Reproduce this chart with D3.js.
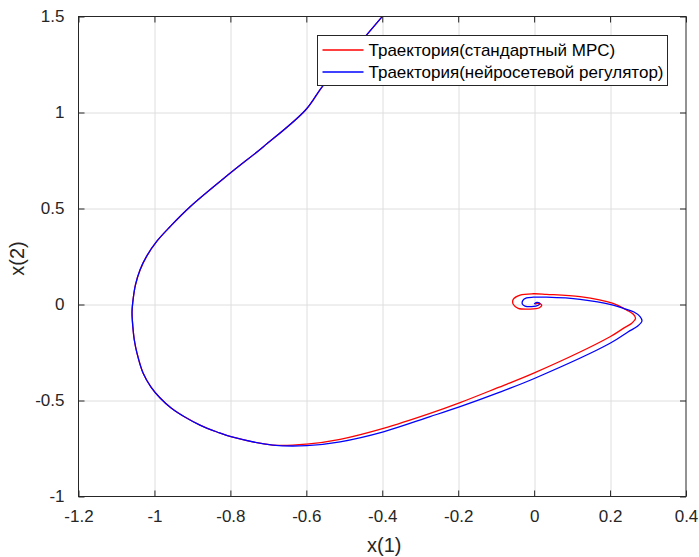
<!DOCTYPE html>
<html>
<head>
<meta charset="utf-8">
<script src="https://cdn.jsdelivr.net/npm/d3@7"></script>
<style>
  html, body { margin: 0; padding: 0; background: #fff; }
  svg { display: block; font-family: "Liberation Sans", Arial, Helvetica, sans-serif; }
</style>
</head>
<body>
<div id="chart"></div>
<script>
// Phase-plane trajectories x(1) vs x(2)
const xTicks = [-1.2, -1, -0.8, -0.6, -0.4, -0.2, 0, 0.2, 0.4];
const yTicks = [-1, -0.5, 0, 0.5, 1, 1.5];
const xDomain = [-1.2, 0.4];
const yDomain = [-1, 1.5];

const seriesNames = ["Траектория(стандартный MPC)", "Траектория(нейросетевой регулятор)"];
const seriesColors = ["#ff0000", "#0000ff"];

// Standard MPC trajectory
const mpcX = [-0.375, -0.400, -0.441, -0.555, -0.602, -0.713, -0.801, -0.906, -0.959, -0.993,
  -1.020, -1.038, -1.050, -1.056, -1.059, -1.057, -1.053, -1.046, -1.030, -1.009, -0.985, -0.956,
  -0.920, -0.880, -0.835, -0.796, -0.688,
  -0.599, -0.511, -0.397, -0.274, -0.195, -0.099, 0.002, 0.200, 0.237, 0.258, 0.267, 0.262, 0.244,
  0.208, 0.121, 0.033, -0.002, -0.037, -0.055, -0.055, -0.042, -0.011, 0.014, 0.020, 0.011, 0.002];
const mpcY = [1.560, 1.500, 1.404, 1.143, 1.013, 0.822, 0.683, 0.509, 0.405, 0.331,
  0.253, 0.180, 0.102, 0.029, -0.039, -0.112, -0.185, -0.253, -0.357, -0.430, -0.487, -0.539,
  -0.586, -0.628, -0.664, -0.690, -0.732,
  -0.727, -0.702, -0.645, -0.567, -0.511, -0.436, -0.355, -0.168, -0.122, -0.096, -0.073, -0.052, -0.029,
  0.006, 0.041, 0.053, 0.056, 0.049, 0.027, 0.001, -0.020, -0.024, -0.017, -0.003, 0.006, 0.002];

// Neural-network controller trajectory
const nnX = [-0.375, -0.400, -0.441, -0.555, -0.602, -0.713, -0.801, -0.906, -0.959, -0.993,
  -1.020, -1.038, -1.050, -1.056, -1.059, -1.057, -1.053, -1.046, -1.030, -1.009, -0.985, -0.956,
  -0.920, -0.880, -0.835, -0.796, -0.688,
  -0.599, -0.511, -0.397, -0.274, -0.195, -0.099, 0.002, 0.200, 0.247, 0.273, 0.284, 0.279, 0.263,
  0.235, 0.208, 0.121, 0.033, -0.002, -0.020, -0.030, -0.031, -0.024, -0.006, 0.011, 0.015, 0.007, 0.000];
const nnY = [1.560, 1.500, 1.404, 1.143, 1.013, 0.822, 0.683, 0.509, 0.405, 0.331,
  0.253, 0.180, 0.102, 0.029, -0.039, -0.112, -0.185, -0.253, -0.357, -0.430, -0.487, -0.539,
  -0.586, -0.628, -0.664, -0.690, -0.732,
  -0.735, -0.715, -0.663, -0.584, -0.532, -0.463, -0.384, -0.202, -0.143, -0.112, -0.086, -0.063, -0.039,
  -0.020, -0.003, 0.027, 0.038, 0.038, 0.034, 0.020, 0.003, -0.008, -0.011, -0.004, 0.006, 0.011, 0.003];

const W = 699, H = 557;
const margin = { left: 78.5, right: 13, top: 16.5, bottom: 60.5 };
const iw = W - margin.left - margin.right;
const ih = H - margin.top - margin.bottom;
const ink = "#262626";

const svg = d3.select("#chart").append("svg").attr("width", W).attr("height", H);
const g = svg.append("g").attr("transform", `translate(${margin.left},${margin.top})`);

const x = d3.scaleLinear().domain(xDomain).range([0, iw]);
const y = d3.scaleLinear().domain(yDomain).range([ih, 0]);

const fmt = d => String(+d.toFixed(2));

// grid
const grid = g.append("g").attr("stroke", "#dedede").attr("stroke-width", 1);
grid.selectAll(".gx").data(xTicks.slice(1, -1)).join("line")
  .attr("x1", d => Math.round(x(d)) + 0.5).attr("x2", d => Math.round(x(d)) + 0.5)
  .attr("y1", 0).attr("y2", ih);
grid.selectAll(".gy").data(yTicks.slice(1, -1)).join("line")
  .attr("y1", d => Math.round(y(d)) + 0.5).attr("y2", d => Math.round(y(d)) + 0.5)
  .attr("x1", 0).attr("x2", iw);

// trajectories, clipped to the plot box
svg.append("defs").append("clipPath").attr("id", "plotclip")
  .append("rect").attr("width", iw).attr("height", ih);

const line = d3.line().x(d => x(d[0])).y(d => y(d[1])).curve(d3.curveCatmullRom.alpha(0.5));
const series = [d3.zip(mpcX, mpcY), d3.zip(nnX, nnY)];
const plot = g.append("g").attr("clip-path", "url(#plotclip)");
series.forEach((pts, i) => {
  plot.append("path").datum(pts)
    .attr("fill", "none").attr("stroke", seriesColors[i]).attr("stroke-width", 1.3)
    .attr("stroke-linejoin", "round").attr("d", line);
});

// axes with inward ticks on all sides
const tickLen = 6;
const axStyle = sel => {
  sel.select(".domain").remove();
  sel.selectAll(".tick line").attr("stroke", ink).attr("stroke-width", 1);
  sel.selectAll(".tick text").attr("fill", ink).style("font-size", "17px")
    .style("font-family", "'Liberation Sans', Arial, sans-serif");
};
g.append("g").attr("transform", `translate(0,${ih})`)
  .call(d3.axisBottom(x).tickValues(xTicks).tickFormat(fmt).tickSizeInner(-tickLen).tickSizeOuter(0).tickPadding(13))
  .call(axStyle);
g.append("g")
  .call(d3.axisTop(x).tickValues(xTicks).tickFormat("").tickSizeInner(-tickLen).tickSizeOuter(0))
  .call(axStyle);
g.append("g")
  .call(d3.axisLeft(y).tickValues(yTicks).tickFormat(fmt).tickSizeInner(-tickLen).tickSizeOuter(0).tickPadding(14))
  .call(axStyle);
g.append("g").attr("transform", `translate(${iw},0)`)
  .call(d3.axisRight(y).tickValues(yTicks).tickFormat("").tickSizeInner(-tickLen).tickSizeOuter(0))
  .call(axStyle);

// box
g.append("rect").attr("x", 0).attr("y", 0).attr("width", iw).attr("height", ih)
  .attr("fill", "none").attr("stroke", ink).attr("stroke-width", 1);

// axis labels
g.append("text").attr("x", iw / 2 + 2).attr("y", ih + 55)
  .attr("text-anchor", "middle").attr("fill", ink).style("font-size", "20px").text("x(1)");
g.append("text").attr("transform", `translate(${-55},${ih / 2 + 2}) rotate(-90)`)
  .attr("text-anchor", "middle").attr("fill", ink).style("font-size", "20px").text("x(2)");

// legend
const lg = svg.append("g").attr("transform", "translate(317.5,35.5)");
lg.append("rect").attr("width", 350).attr("height", 50)
  .attr("fill", "#fff").attr("stroke", ink).attr("stroke-width", 1);
seriesNames.forEach((name, i) => {
  const cy = 14.5 + i * 22;
  lg.append("line").attr("x1", 5).attr("x2", 46).attr("y1", cy).attr("y2", cy)
    .attr("stroke", seriesColors[i]).attr("stroke-width", 1.3);
  lg.append("text").attr("x", 51).attr("y", cy).attr("dy", "0.35em")
    .attr("fill", "#000").style("font-size", "17px").text(name);
});
</script>
</body>
</html>
